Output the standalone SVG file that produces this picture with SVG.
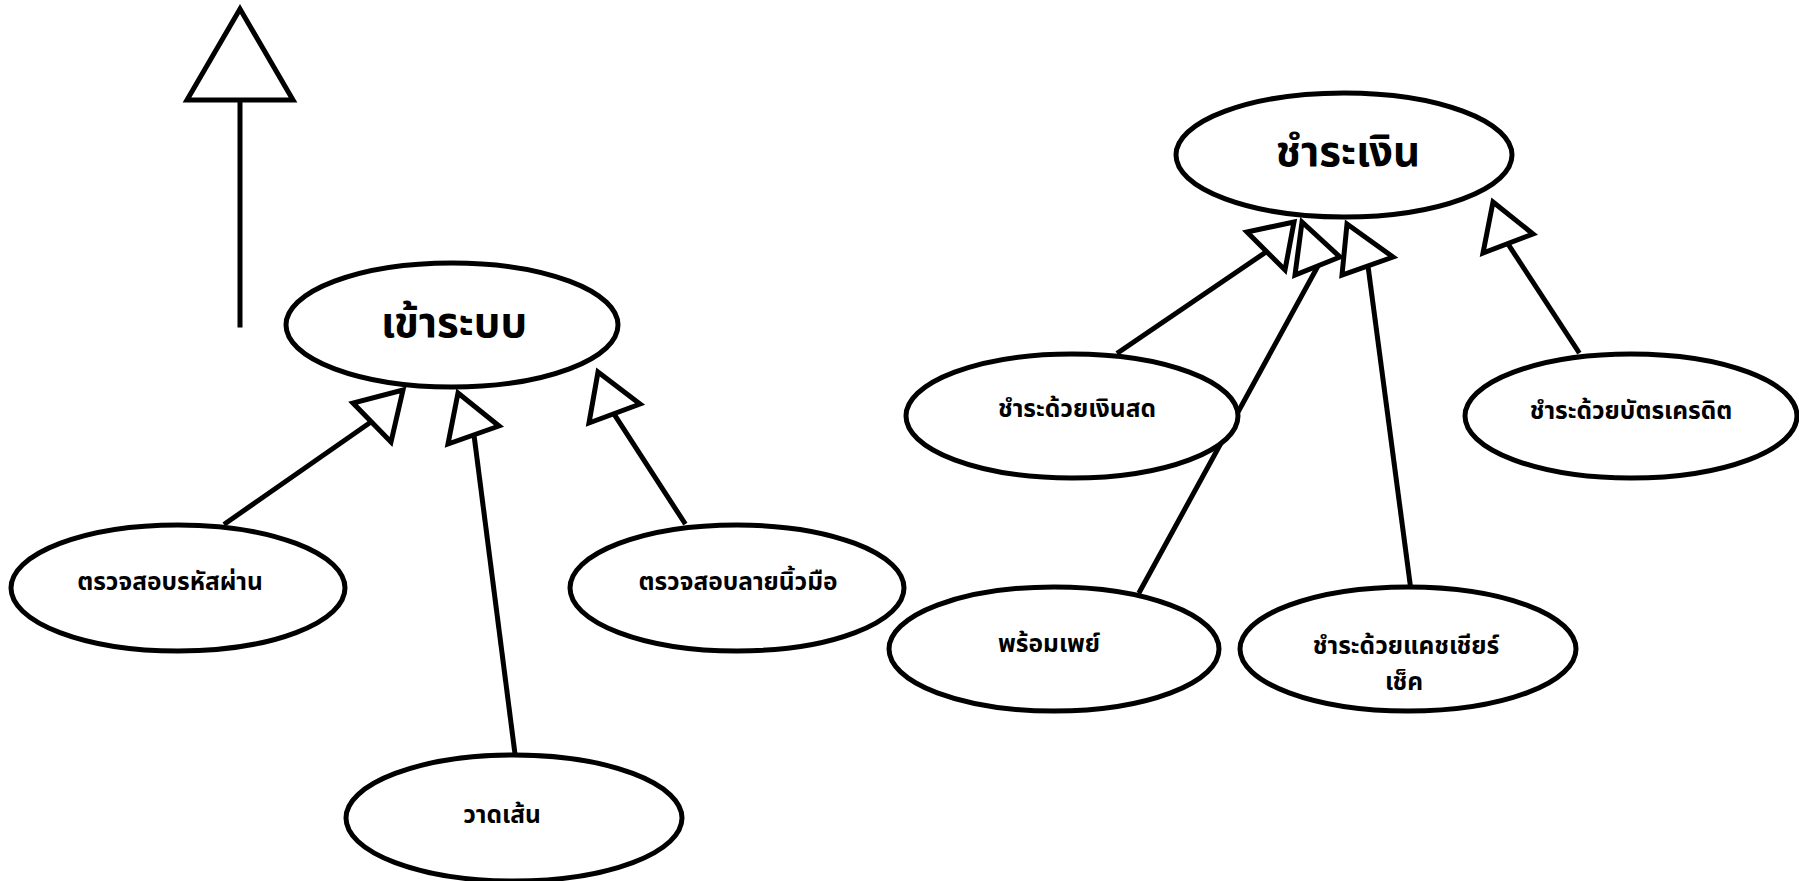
<svg xmlns="http://www.w3.org/2000/svg" width="1799" height="881" viewBox="0 0 1799 881">
<style>
.n ellipse{fill:#fff;stroke:#000;stroke-width:5}
.t{font-family:"Noto Sans Thai","Noto Sans","DejaVu Sans",sans-serif;font-weight:bold;fill:#000;text-anchor:middle}
.big{font-size:42px}
.sm{font-size:24.5px}
.c line{stroke:#000;stroke-width:5;stroke-linecap:square}
.c polygon{fill:#fff;stroke:#000;stroke-width:5;stroke-linejoin:miter}
</style>
<rect width="1799" height="881" fill="#fff"/>
<g id="connectors" class="c">
<line x1="240" y1="100" x2="240" y2="325"/>
<polygon points="240,9 293,100 187,100"/>
<line x1="226" y1="523" x2="371" y2="422"/>
<polygon points="403,390 391,442 353,403"/>
<line x1="515" y1="754" x2="474" y2="435"/>
<polygon points="458,393 499,426 448,444"/>
<line x1="684" y1="522" x2="614" y2="414"/>
<polygon points="598,372 640,404 589,423"/>
<line x1="1119" y1="352" x2="1266" y2="252"/>
<polygon points="1294,222 1285,270 1247,232"/>
<line x1="1140" y1="591" x2="1318" y2="266"/>
<polygon points="1302,222 1340,257 1295,275"/>
<line x1="1410" y1="583" x2="1368" y2="266"/>
<polygon points="1347,224 1393,257 1342,275"/>
<line x1="1578" y1="351" x2="1508" y2="244"/>
<polygon points="1493,202 1533,234 1483,253"/>
</g>
<g id="login" class="n"><ellipse cx="452" cy="325" rx="166" ry="62"/><text class="t big" x="454" y="337">เข้าระบบ</text></g>
<g id="password" class="n"><ellipse cx="178" cy="588" rx="167" ry="63"/><text class="t sm" x="170" y="590">ตรวจสอบรหัสผ่าน</text></g>
<g id="fingerprint" class="n"><ellipse cx="737" cy="588" rx="167" ry="63"/><text class="t sm" x="738" y="590">ตรวจสอบลายนิ้วมือ</text></g>
<g id="draw" class="n"><ellipse cx="514" cy="818" rx="168" ry="63"/><text class="t sm" x="502" y="823">วาดเส้น</text></g>
<g id="pay" class="n"><ellipse cx="1344" cy="155" rx="168" ry="62"/><text class="t big" x="1348" y="166">ชำระเงิน</text></g>
<g id="cash" class="n"><ellipse cx="1072" cy="416" rx="166" ry="62"/><text class="t sm" x="1077" y="417">ชำระด้วยเงินสด</text></g>
<g id="credit" class="n"><ellipse cx="1631" cy="416" rx="166" ry="62"/><text class="t sm" x="1631" y="419">ชำระด้วยบัตรเครดิต</text></g>
<g id="promptpay" class="n"><ellipse cx="1054" cy="649" rx="165" ry="62"/><text class="t sm" x="1049" y="652">พร้อมเพย์</text></g>
<g id="cashier" class="n"><ellipse cx="1408" cy="649" rx="168" ry="62"/><text class="t sm" x="1406" y="654">ชำระด้วยแคชเชียร์</text><text class="t sm" x="1404" y="690">เช็ค</text></g>
</svg>
